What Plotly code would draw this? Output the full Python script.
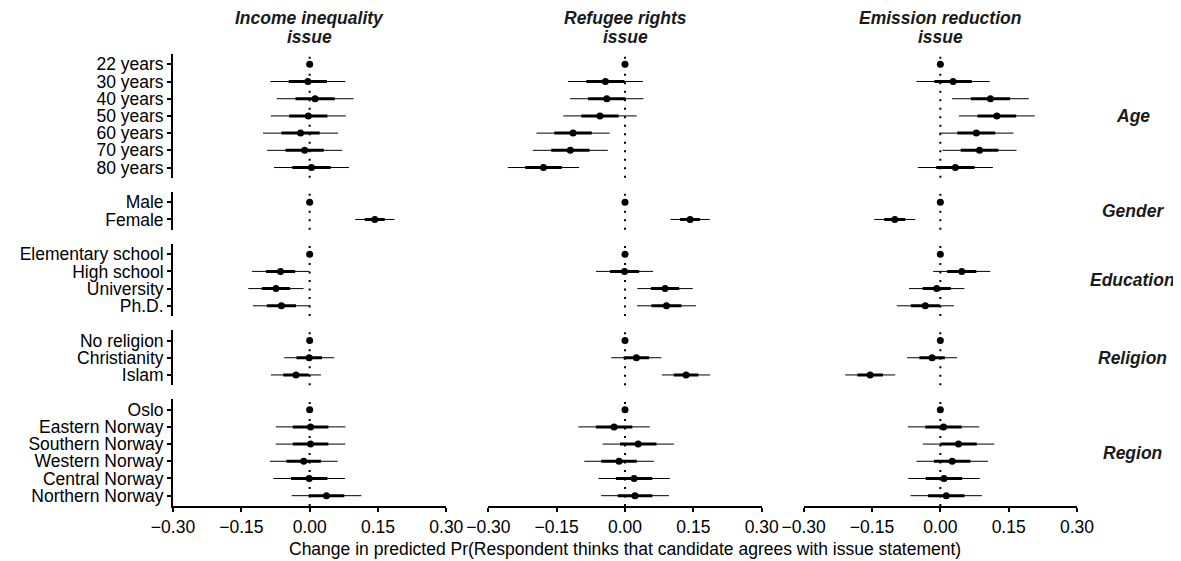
import plotly.graph_objects as go
from plotly.subplots import make_subplots

# ---------------- data ----------------
groups = ["Age", "Gender", "Education", "Religion", "Region"]
levels = [
    "22 years", "30 years", "40 years", "50 years", "60 years", "70 years", "80 years",
    "Male", "Female",
    "Elementary school", "High school", "University", "Ph.D.",
    "No religion", "Christianity", "Islam",
    "Oslo", "Eastern Norway", "Southern Norway", "Western Norway", "Central Norway", "Northern Norway",
]
level_group = (["Age"] * 7 + ["Gender"] * 2 + ["Education"] * 4 +
               ["Religion"] * 3 + ["Region"] * 6)

issues = ["Income inequality", "Refugee rights", "Emission reduction"]

income_est = [0, -0.004, 0.012, -0.003, -0.020, -0.011, 0.004,
              0, 0.143,
              0, -0.064, -0.074, -0.062,
              0, -0.001, -0.030,
              0, 0.002, 0.002, -0.013, -0.001, 0.037]
income_se = [0, 0.042, 0.043, 0.042, 0.042, 0.042, 0.042,
             0, 0.022,
             0, 0.032, 0.031, 0.032,
             0, 0.028, 0.028,
             0, 0.039, 0.039, 0.038, 0.040, 0.039]

refugee_est = [0, -0.043, -0.040, -0.055, -0.114, -0.120, -0.179,
               0, 0.143,
               0, -0.001, 0.088, 0.091,
               0, 0.025, 0.134,
               0, -0.024, 0.029, -0.013, 0.020, 0.022]
refugee_se = [0, 0.042, 0.041, 0.041, 0.041, 0.042, 0.040,
              0, 0.022,
              0, 0.032, 0.031, 0.033,
              0, 0.028, 0.027,
              0, 0.040, 0.040, 0.039, 0.040, 0.038]

emission_est = [0, 0.028, 0.110, 0.124, 0.079, 0.086, 0.033,
                0, -0.100,
                0, 0.047, -0.008, -0.033,
                0, -0.018, -0.154,
                0, 0.007, 0.040, 0.026, 0.008, 0.013]
emission_se = [0, 0.041, 0.043, 0.0425, 0.0416, 0.0414, 0.042,
               0, 0.023,
               0, 0.032, 0.031, 0.032,
               0, 0.028, 0.028,
               0, 0.040, 0.040, 0.040, 0.040, 0.040]

x_tickvals = [-0.30, -0.15, 0.00, 0.15, 0.30]
x_ticktext = ["\u22120.30", "\u22120.15", "0.00", "0.15", "0.30"]
x_title = "Change in predicted Pr(Respondent thinks that candidate agrees with issue statement)"

# ---------------- layout geometry ----------------
# the page body has an 8 px default margin, so the figure is offset by 8 px
OFF = 8
W, H = 1181 - OFF, 561 - OFF
PLOT_LEFT, PLOT_RIGHT, PLOT_TOP, PLOT_BOTTOM = 167 - OFF, 1077 - OFF, 54 - OFF, 506 - OFF
L, R, T, B = PLOT_LEFT, W - PLOT_RIGHT, PLOT_TOP, H - PLOT_BOTTOM
PW, PH = W - L - R, H - T - B
FONT = "Liberation Sans, Arial, Helvetica, sans-serif"
FS = 17.5


def px_x(p):  # page pixel -> paper x
    return (p - OFF - L) / PW


def px_y(p):  # page pixel -> paper y
    return (PLOT_BOTTOM - (p - OFF)) / PH


counts = [level_group.count(g) for g in groups]
fig = make_subplots(
    rows=5, cols=3,
    row_heights=[n + 0.2 for n in counts],
    vertical_spacing=14.1 / PH,
    horizontal_spacing=42.3 / PW,
)

series = [(income_est, income_se), (refugee_est, refugee_se), (emission_est, emission_se)]

for r, g in enumerate(groups, 1):
    idx = [i for i, gg in enumerate(level_group) if gg == g]
    n = len(idx)
    labs = [levels[i] for i in idx]
    for c, (est, se) in enumerate(series, 1):
        thin_x, thin_y, thick_x, thick_y = [], [], [], []
        px_, py_ = [], []
        for k, i in enumerate(idx):
            e, s = est[i], se[i]
            thin_x += [e - 1.96 * s, e + 1.96 * s, None]
            thin_y += [k, k, None]
            thick_x += [e - s, e + s, None]
            thick_y += [k, k, None]
            px_.append(e)
            py_.append(k)
        fig.add_trace(go.Scatter(x=thin_x, y=thin_y, mode="lines",
                                 line=dict(color="black", width=1),
                                 hoverinfo="skip", showlegend=False), row=r, col=c)
        fig.add_trace(go.Scatter(x=thick_x, y=thick_y, mode="lines",
                                 line=dict(color="black", width=3),
                                 hoverinfo="skip", showlegend=False), row=r, col=c)
        fig.add_trace(go.Scatter(x=px_, y=py_, mode="markers",
                                 marker=dict(color="black", size=7),
                                 showlegend=False), row=r, col=c)
        fig.add_vline(x=0, row=r, col=c, layer="below",
                      line=dict(color="black", width=2, dash="2px,6.5px"))
        yopts = dict(range=[n - 1 + 0.6, -0.6], tickvals=list(range(n)),
                     ticktext=labs, showgrid=False, zeroline=False)
        if c == 1:
            yopts.update(showline=True, linecolor="black", linewidth=1.8,
                         ticks="outside", ticklen=4, tickwidth=1.8, tickcolor="black",
                         showticklabels=True,
                         tickfont=dict(family=FONT, size=FS, color="black"))
        else:
            yopts.update(showline=False, ticks="", showticklabels=False)
        fig.update_yaxes(row=r, col=c, **yopts)

        xopts = dict(range=[-0.3, 0.3], showgrid=False, zeroline=False)
        if r == 5:
            xopts.update(showline=True, linecolor="black", linewidth=1.8,
                         ticks="outside", ticklen=4, tickwidth=1.8, tickcolor="black",
                         tickvals=x_tickvals, ticktext=x_ticktext,
                         tickfont=dict(family=FONT, size=FS, color="black"))
        else:
            xopts.update(showline=False, ticks="", showticklabels=False)
        fig.update_xaxes(row=r, col=c, **xopts)

annotations = []
# top strip labels
for c, name in enumerate(issues, 1):
    xref = "x domain" if c == 1 else f"x{c} domain"
    for txt, py in ((name, 18.3), ("issue", 37.3)):
        annotations.append(dict(text=f"<b><i>{txt}</i></b>", xref=xref, x=0.5,
                                yref="paper", y=px_y(py), xanchor="center", yanchor="middle",
                                showarrow=False,
                                font=dict(family=FONT, size=FS, color="#1a1a1a")))
# right strip labels
for r, g in enumerate(groups, 1):
    k = (r - 1) * 3 + 3
    annotations.append(dict(text=f"<b><i>{g}</i></b>", xref="paper", x=px_x(1133),
                            yref=f"y{k} domain", y=0.5, xanchor="center", yanchor="middle",
                            showarrow=False,
                            font=dict(family=FONT, size=FS, color="#1a1a1a")))
# x axis title
annotations.append(dict(text=x_title, xref="x14 domain", x=0.5, yref="paper", y=px_y(548.5),
                        xanchor="center", yanchor="middle", showarrow=False,
                        font=dict(family=FONT, size=FS, color="black")))

fig.update_layout(
    width=W, height=H,
    margin=dict(l=L, r=R, t=T, b=B, pad=0),
    plot_bgcolor="rgba(0,0,0,0)", paper_bgcolor="white",
    font=dict(family=FONT, size=FS, color="black"),
    annotations=annotations,
    showlegend=False,
)

fig.write_html("out.html")
